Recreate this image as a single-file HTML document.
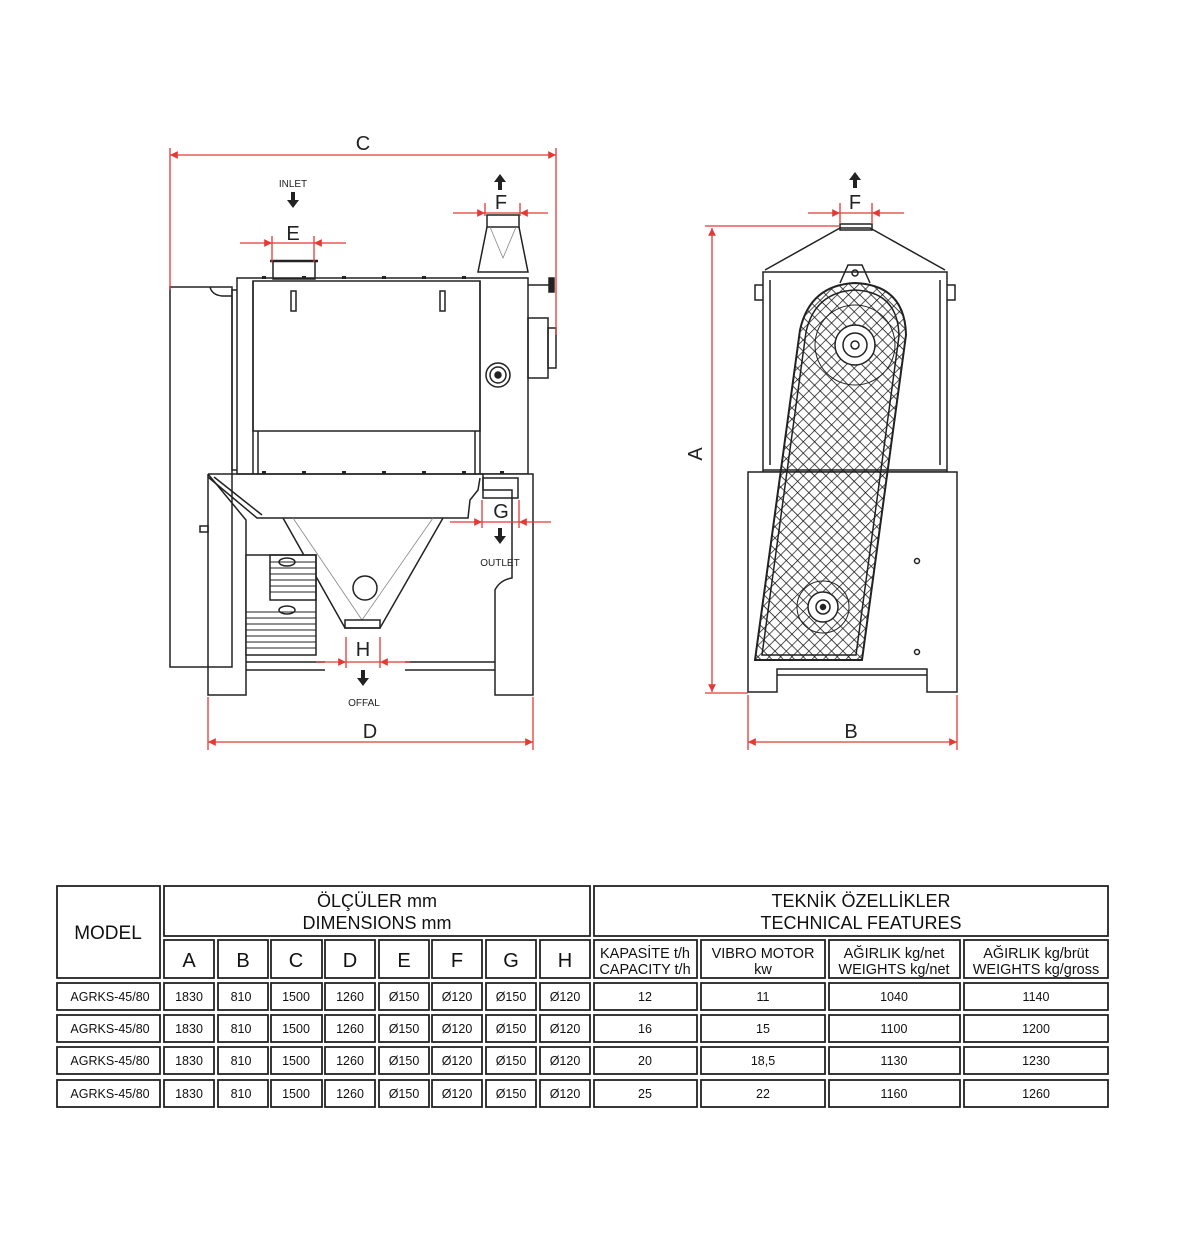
<!DOCTYPE html>
<html><head><meta charset="utf-8">
<style>
html,body{margin:0;padding:0;background:#fff;}
svg{display:block;}
text{font-family:"Liberation Sans",sans-serif;}
</style></head>
<body>
<svg width="1177" height="1246" viewBox="0 0 1177 1246" xmlns="http://www.w3.org/2000/svg">
<defs>
<pattern id="hatch" width="8" height="8" patternUnits="userSpaceOnUse" patternTransform="rotate(45)">
<path d="M0 0H8M0 0V8" stroke="#111" stroke-width="1.4"/>
</pattern>
<marker id="ar" viewBox="0 0 10 10" refX="10" refY="5" markerWidth="9" markerHeight="6" orient="auto-start-reverse"><path d="M0 0L10 5L0 10z" fill="#e53935"/></marker>
</defs>

<!-- ========= LEFT VIEW ========= -->
<g fill="none" stroke="#222" stroke-width="1.5">
<rect x="170" y="287" width="62" height="380" fill="#fff"/>
<path d="M210 287 Q212 295 222 296 L232 296"/>
<rect x="232" y="290" width="6" height="180"/>
<rect x="237" y="278" width="291" height="196" fill="#fff"/>
<rect x="253" y="281" width="227" height="150"/>
<line x1="253" y1="281" x2="253" y2="474"/><line x1="258" y1="431" x2="258" y2="474"/>
<line x1="475" y1="431" x2="475" y2="474"/><line x1="480" y1="281" x2="480" y2="474"/>
<rect x="291" y="291" width="5" height="20"/><rect x="440" y="291" width="5" height="20"/>
<circle cx="498" cy="375" r="12"/><circle cx="498" cy="375" r="8"/><circle cx="498" cy="375" r="3" fill="#222"/>
<rect x="528" y="318" width="20" height="60"/><rect x="548" y="328" width="8" height="40"/>
<line x1="528" y1="285" x2="550" y2="285"/><rect x="549" y="278" width="5" height="14" fill="#222"/>
<rect x="273" y="261" width="42" height="18"/><line x1="270" y1="261" x2="318" y2="261" stroke-width="2.5"/>
<rect x="487" y="215" width="32" height="12"/>
<path d="M487 227 L478 272 L528 272 L519 227"/>
<path d="M490 227 L503 258 L516 227" stroke="#888" stroke-width="0.8"/>
<g fill="#222" stroke="none">
<rect x="262" y="276" width="4" height="3"/><rect x="302" y="276" width="4" height="3"/><rect x="342" y="276" width="4" height="3"/><rect x="382" y="276" width="4" height="3"/><rect x="422" y="276" width="4" height="3"/><rect x="462" y="276" width="4" height="3"/>
<rect x="262" y="471" width="4" height="3"/><rect x="302" y="471" width="4" height="3"/><rect x="342" y="471" width="4" height="3"/><rect x="382" y="471" width="4" height="3"/><rect x="422" y="471" width="4" height="3"/><rect x="462" y="471" width="4" height="3"/><rect x="500" y="471" width="4" height="3"/>
</g>
<path d="M208 474 H533 V695 H495 V612 L495 590 Q500 580 512 578 L512 490 H483 V474" fill="#fff"/>
<path d="M208 474 V695 H246 V520 L208 474"/>
<path d="M208 477 L257 518 H468 L470 500 L478 490 L480 478"/>
<path d="M214 477 L262 515"/>
<rect x="483" y="478" width="35" height="20"/>
<line x1="246" y1="670" x2="325" y2="670"/><line x1="246" y1="662" x2="325" y2="662"/>
<line x1="405" y1="662" x2="495" y2="662"/><line x1="405" y1="670" x2="495" y2="670"/>
<rect x="200" y="526" width="8" height="6"/>
<path d="M283 518 L345 628 L380 628 L443 518"/>
<path d="M293 518 L362 620 L433 518" stroke="#888" stroke-width="0.8"/>
<rect x="345" y="620" width="35" height="8"/>
<circle cx="365" cy="588" r="12"/>
<rect x="246" y="555" width="70" height="100" fill="#fff"/>
<g stroke-width="0.9">
<line x1="270" y1="562" x2="316" y2="562"/><line x1="270" y1="568" x2="316" y2="568"/><line x1="270" y1="574" x2="316" y2="574"/><line x1="270" y1="580" x2="316" y2="580"/><line x1="270" y1="586" x2="316" y2="586"/><line x1="270" y1="592" x2="316" y2="592"/>
<line x1="246" y1="612" x2="316" y2="612"/><line x1="246" y1="618" x2="316" y2="618"/><line x1="246" y1="624" x2="316" y2="624"/><line x1="246" y1="630" x2="316" y2="630"/><line x1="246" y1="636" x2="316" y2="636"/><line x1="246" y1="642" x2="316" y2="642"/><line x1="246" y1="648" x2="316" y2="648"/>
</g>
<rect x="270" y="555" width="46" height="45"/>
<ellipse cx="287" cy="562" rx="8" ry="4"/><ellipse cx="287" cy="610" rx="8" ry="4"/>
</g>

<g stroke="#e53935" stroke-width="1.3" fill="none">
<line x1="170" y1="155" x2="556" y2="155" marker-start="url(#ar)" marker-end="url(#ar)"/>
<line x1="170" y1="148" x2="170" y2="290"/><line x1="556" y1="148" x2="556" y2="335"/>
<line x1="208" y1="742" x2="533" y2="742" marker-start="url(#ar)" marker-end="url(#ar)"/>
<line x1="208" y1="697" x2="208" y2="750"/><line x1="533" y1="697" x2="533" y2="750"/>
<line x1="240" y1="243" x2="272" y2="243" marker-end="url(#ar)"/><line x1="346" y1="243" x2="314" y2="243" marker-end="url(#ar)"/>
<line x1="272" y1="236" x2="272" y2="262"/><line x1="314" y1="236" x2="314" y2="262"/><line x1="272" y1="243" x2="314" y2="243"/>
<line x1="453" y1="213" x2="485" y2="213" marker-end="url(#ar)"/><line x1="548" y1="213" x2="520" y2="213" marker-end="url(#ar)"/>
<line x1="485" y1="203" x2="485" y2="216"/><line x1="520" y1="203" x2="520" y2="216"/><line x1="485" y1="213" x2="520" y2="213"/>
<line x1="450" y1="522" x2="482" y2="522" marker-end="url(#ar)"/><line x1="551" y1="522" x2="519" y2="522" marker-end="url(#ar)"/>
<line x1="482" y1="500" x2="482" y2="528"/><line x1="519" y1="500" x2="519" y2="528"/><line x1="482" y1="522" x2="519" y2="522"/>
<line x1="316" y1="662" x2="346" y2="662" marker-end="url(#ar)"/><line x1="410" y1="662" x2="380" y2="662" marker-end="url(#ar)"/>
<line x1="346" y1="637" x2="346" y2="668"/><line x1="380" y1="637" x2="380" y2="668"/><line x1="346" y1="662" x2="380" y2="662"/>
</g>
<g fill="#222" font-size="20" text-anchor="middle">
<text x="363" y="150">C</text><text x="370" y="738">D</text>
<text x="293" y="240">E</text><text x="501" y="209">F</text><text x="501" y="518">G</text><text x="363" y="656">H</text>
</g>
<g fill="#222" font-size="10" text-anchor="middle">
<text x="293" y="187">INLET</text><text x="500" y="566">OUTLET</text><text x="364" y="706">OFFAL</text>
</g>
<g fill="#222">
<path d="M291 192h4v8h4l-6 8-6-8h4z"/>
<path d="M498 190h4v-8h4l-6-8-6 8h4z"/>
<path d="M498 528h4v8h4l-6 8-6-8h4z"/>
<path d="M361 670h4v8h4l-6 8-6-8h4z"/>
<path d="M853 188h4v-8h4l-6-8-6 8h4z"/>
</g>

<!-- ========= RIGHT VIEW ========= -->
<g fill="none" stroke="#222" stroke-width="1.5">
<path d="M765 270 L840 228 H870 L945 270"/>
<rect x="840" y="224" width="32" height="6"/>
<rect x="763" y="272" width="184" height="200" fill="#fff"/>
<line x1="770" y1="280" x2="770" y2="465"/><line x1="940" y1="280" x2="940" y2="465"/>
<path d="M763 285 h-8 v15 h8"/><path d="M947 285 h8 v15 h-8"/>
<path d="M748 472 H957 V692 H927 V669 H777 V692 H748 Z" fill="#fff"/>
<line x1="777" y1="675" x2="927" y2="675"/>
<circle cx="917" cy="561" r="2.5"/><circle cx="917" cy="652" r="2.5"/>
<path d="M840 283 L848 265 H862 L870 283"/>
<circle cx="855" cy="273" r="3"/>
<path d="M755 660 L800 330 Q810 285 855 283 Q905 285 906 335 L862 660 Z" fill="url(#hatch)" stroke-width="2"/>
<path d="M762 655 L806 332 Q815 292 855 290 Q898 292 899 336 L856 655 Z"/>
<ellipse cx="855" cy="345" rx="40" ry="40" stroke-width="1"/>
<circle cx="855" cy="345" r="20" fill="#fff"/><circle cx="855" cy="345" r="12"/><circle cx="855" cy="345" r="4"/>
<circle cx="823" cy="607" r="26" stroke-width="1"/>
<circle cx="823" cy="607" r="15" fill="#fff"/><circle cx="823" cy="607" r="7"/><circle cx="823" cy="607" r="2.5" fill="#222"/>
<line x1="763" y1="470" x2="947" y2="470"/>
</g>
<g stroke="#e53935" stroke-width="1.3" fill="none">
<line x1="712" y1="228" x2="712" y2="692" marker-start="url(#ar)" marker-end="url(#ar)"/>
<line x1="705" y1="226" x2="840" y2="226"/><line x1="705" y1="693" x2="748" y2="693"/>
<line x1="748" y1="742" x2="957" y2="742" marker-start="url(#ar)" marker-end="url(#ar)"/>
<line x1="748" y1="695" x2="748" y2="750"/><line x1="957" y1="695" x2="957" y2="750"/>
<line x1="808" y1="213" x2="840" y2="213" marker-end="url(#ar)"/><line x1="904" y1="213" x2="872" y2="213" marker-end="url(#ar)"/>
<line x1="840" y1="203" x2="840" y2="224"/><line x1="872" y1="203" x2="872" y2="224"/><line x1="840" y1="213" x2="872" y2="213"/>
</g>
<g fill="#222" font-size="20" text-anchor="middle">
<text x="855" y="209">F</text><text x="851" y="738">B</text>
<text x="708" y="460" transform="rotate(-90 702 460)">A</text>
</g>

<!-- ========= TABLE ========= -->
<g fill="none" stroke="#222" stroke-width="1.8">
<rect x="57" y="886" width="103" height="92"/>
<rect x="164" y="886" width="426" height="50"/>
<rect x="594" y="886" width="514" height="50"/>
<rect x="164" y="940" width="50" height="38"/><rect x="218" y="940" width="50" height="38"/><rect x="271" y="940" width="51" height="38"/><rect x="325" y="940" width="50" height="38"/><rect x="379" y="940" width="50" height="38"/><rect x="432" y="940" width="50" height="38"/><rect x="486" y="940" width="50" height="38"/><rect x="540" y="940" width="50" height="38"/>
<rect x="594" y="940" width="103" height="38"/><rect x="701" y="940" width="124" height="38"/><rect x="829" y="940" width="131" height="38"/><rect x="964" y="940" width="144" height="38"/>
</g>
<g fill="none" stroke="#222" stroke-width="1.8">
<g id="r1">
<rect x="57" y="983" width="103" height="27"/>
<rect x="164" y="983" width="50" height="27"/><rect x="218" y="983" width="50" height="27"/><rect x="271" y="983" width="51" height="27"/><rect x="325" y="983" width="50" height="27"/><rect x="379" y="983" width="50" height="27"/><rect x="432" y="983" width="50" height="27"/><rect x="486" y="983" width="50" height="27"/><rect x="540" y="983" width="50" height="27"/>
<rect x="594" y="983" width="103" height="27"/><rect x="701" y="983" width="124" height="27"/><rect x="829" y="983" width="131" height="27"/><rect x="964" y="983" width="144" height="27"/>
</g>
<use href="#r1" y="32"/><use href="#r1" y="64"/><use href="#r1" y="97"/>
</g>
<g fill="#111" text-anchor="middle">
<text x="108" y="939" font-size="19">MODEL</text>
<text x="377" y="907" font-size="18">ÖLÇÜLER mm</text><text x="377" y="929" font-size="18">DIMENSIONS mm</text>
<text x="861" y="907" font-size="18">TEKNİK ÖZELLİKLER</text><text x="861" y="929" font-size="18">TECHNICAL FEATURES</text>
<g font-size="20"><text x="189" y="967">A</text><text x="243" y="967">B</text><text x="296" y="967">C</text><text x="350" y="967">D</text><text x="404" y="967">E</text><text x="457" y="967">F</text><text x="511" y="967">G</text><text x="565" y="967">H</text></g>
<g font-size="14.5"><text x="645" y="958">KAPASİTE t/h</text><text x="645" y="974">CAPACITY t/h</text>
<text x="763" y="958">VIBRO MOTOR</text><text x="763" y="974">kw</text>
<text x="894" y="958">AĞIRLIK kg/net</text><text x="894" y="974">WEIGHTS kg/net</text>
<text x="1036" y="958">AĞIRLIK kg/brüt</text><text x="1036" y="974">WEIGHTS kg/gross</text></g>
<g font-size="12.5">
<text x="110" y="1001">AGRKS-45/80</text><text x="189" y="1001">1830</text><text x="241" y="1001">810</text><text x="296" y="1001">1500</text><text x="350" y="1001">1260</text><text x="404" y="1001">Ø150</text><text x="457" y="1001">Ø120</text><text x="511" y="1001">Ø150</text><text x="565" y="1001">Ø120</text><text x="645" y="1001">12</text><text x="763" y="1001">11</text><text x="894" y="1001">1040</text><text x="1036" y="1001">1140</text>
<text x="110" y="1033">AGRKS-45/80</text><text x="189" y="1033">1830</text><text x="241" y="1033">810</text><text x="296" y="1033">1500</text><text x="350" y="1033">1260</text><text x="404" y="1033">Ø150</text><text x="457" y="1033">Ø120</text><text x="511" y="1033">Ø150</text><text x="565" y="1033">Ø120</text><text x="645" y="1033">16</text><text x="763" y="1033">15</text><text x="894" y="1033">1100</text><text x="1036" y="1033">1200</text>
<text x="110" y="1065">AGRKS-45/80</text><text x="189" y="1065">1830</text><text x="241" y="1065">810</text><text x="296" y="1065">1500</text><text x="350" y="1065">1260</text><text x="404" y="1065">Ø150</text><text x="457" y="1065">Ø120</text><text x="511" y="1065">Ø150</text><text x="565" y="1065">Ø120</text><text x="645" y="1065">20</text><text x="763" y="1065">18,5</text><text x="894" y="1065">1130</text><text x="1036" y="1065">1230</text>
<text x="110" y="1098">AGRKS-45/80</text><text x="189" y="1098">1830</text><text x="241" y="1098">810</text><text x="296" y="1098">1500</text><text x="350" y="1098">1260</text><text x="404" y="1098">Ø150</text><text x="457" y="1098">Ø120</text><text x="511" y="1098">Ø150</text><text x="565" y="1098">Ø120</text><text x="645" y="1098">25</text><text x="763" y="1098">22</text><text x="894" y="1098">1160</text><text x="1036" y="1098">1260</text>
</g>
</g>
</svg>
</body></html>
